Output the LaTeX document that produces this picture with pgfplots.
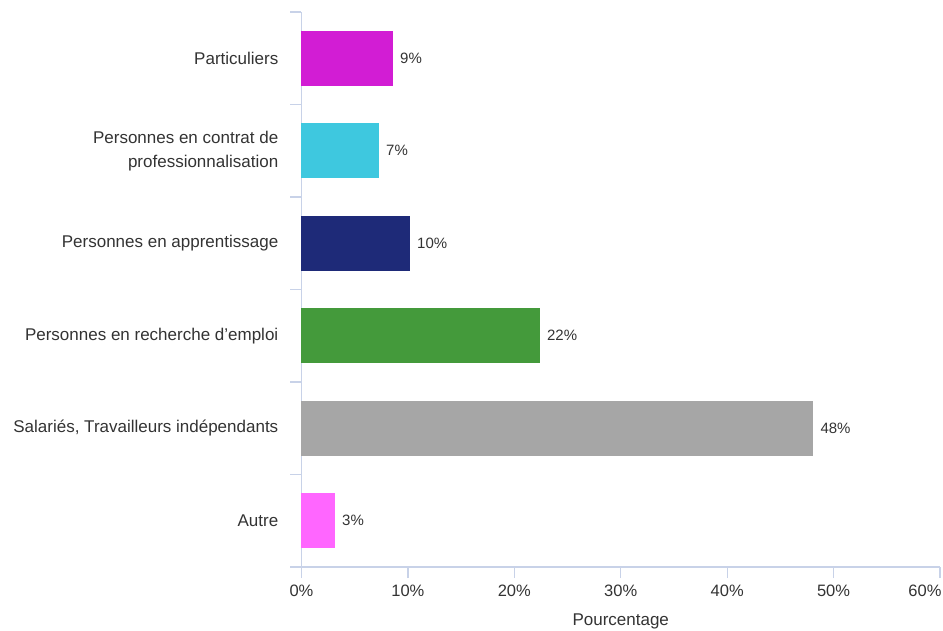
\documentclass[border=0pt]{standalone}
\usepackage{pgfplots}
\pgfplotsset{compat=1.18}
\usepackage{fontspec}
\setmainfont{Liberation Sans}
\definecolor{axiscol}{HTML}{C8D2E8}
\definecolor{txt}{HTML}{333333}
\definecolor{cA}{HTML}{D21DD4}
\definecolor{cB}{HTML}{3EC8DF}
\definecolor{cC}{HTML}{1E2A78}
\definecolor{cD}{HTML}{449A3B}
\definecolor{cE}{HTML}{A6A6A6}
\definecolor{cF}{HTML}{FF66FF}
\begin{document}
\begin{tikzpicture}
\useasboundingbox (-301.5pt,-63pt) rectangle (641.5pt,567pt);
\begin{axis}[
  at={(0,0)}, anchor=south west,
  scale only axis, width=638.5pt, height=555pt,
  xbar, bar width=55pt, bar shift=0pt,
  xmin=0, xmax=60, ymin=-0.5, ymax=5.5,
  axis x line*=bottom, axis y line*=left,
  axis line style={axiscol, line width=1.2pt},
  tick style={axiscol, line width=1.2pt},
  tick align=outside, major tick length=11pt,
  xtick={0,10,...,50},
  xticklabel={\pgfmathprintnumber{\tick}\%},
  extra x ticks={60}, extra x tick labels={60\%},
  extra x tick style={xticklabel style={anchor=north east, xshift=5pt}},
  /pgf/number format/assume math mode=true,
  ytick={-0.5,0.5,...,5.5}, yticklabels={},
  extra y ticks={0,1,2,3,4,5},
  extra y tick labels={Autre,{Salariés, Travailleurs indépendants},{Personnes en recherche d'emploi},{Personnes en apprentissage},{Personnes en contrat de\\professionnalisation},Particuliers},
  extra y tick style={tick style={draw=none}, yticklabel style={align=right, font=\fontsize{17}{24}\selectfont, text=txt, inner sep=0pt, xshift=-12pt}},
  xticklabel style={font=\fontsize{16.5}{20}\selectfont, text=txt, yshift=-3pt},
  xlabel={Pourcentage},
  xlabel style={at={(axis description cs:0.5,0)}, anchor=base, font=\fontsize{17}{20}\selectfont, text=txt, inner sep=0pt, yshift=-58pt},
  nodes near coords={\pgfmathprintnumber[fixed,precision=0]{\pgfplotspointmeta}\%},
  point meta=x,
  nodes near coords style={anchor=west, inner sep=0pt, xshift=7pt, font=\fontsize{15}{18}\selectfont, text=txt},
  clip=false,
]
\addplot[fill=cF, draw=none] coordinates {(3.15,0)};
\addplot[fill=cE, draw=none] coordinates {(48.1,1)};
\addplot[fill=cD, draw=none] coordinates {(22.4,2)};
\addplot[fill=cC, draw=none] coordinates {(10.2,3)};
\addplot[fill=cB, draw=none] coordinates {(7.28,4)};
\addplot[fill=cA, draw=none] coordinates {(8.6,5)};
\end{axis}
\end{tikzpicture}
\end{document}
